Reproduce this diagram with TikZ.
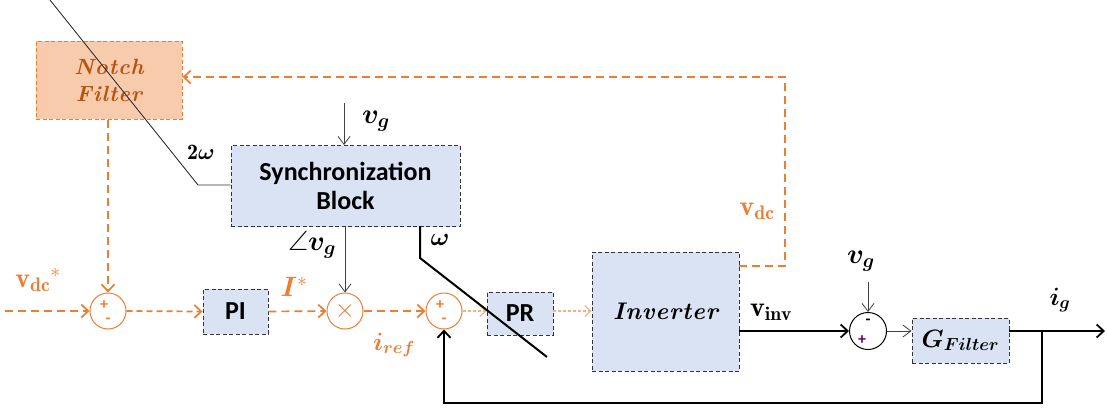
\RequirePackage{fix-cm}
\documentclass[tikz,border=0pt]{standalone}
\usepackage{amsmath,amssymb,bm}
\usepackage{fontspec}
\newfontfamily\carlito{Carlito}
\usetikzlibrary{arrows.meta}
\definecolor{orng}{HTML}{ED7D31}
\definecolor{orngl}{HTML}{F4B183}
\definecolor{notchfill}{HTML}{F8CBAD}
\definecolor{notchtxt}{HTML}{B8530F}
\definecolor{bluefill}{HTML}{DAE3F3}
\newcommand{\ks}{\kern0.9pt}
\begin{document}
\begin{tikzpicture}[x=1pt,y=-1pt,
  blk/.style={draw=black!80, dashed, dash pattern=on 4pt off 2.5pt, fill=bluefill, line width=0.9pt, inner sep=0pt},
  osig/.style={draw=orng, line width=1.7pt, dash pattern=on 8pt off 5pt, -{Straight Barb[length=7pt,width=13pt,line width=1.7pt]}},
  osigl/.style={draw=orngl, line width=1.1pt, dash pattern=on 3pt off 2pt, -{Straight Barb[length=6pt,width=11pt,line width=1.1pt]}},
  ksig/.style={draw=black, line width=1.8pt, -{Straight Barb[length=7pt,width=13pt,line width=1.8pt]}},
  tsig/.style={draw=black!75, line width=0.8pt, -{Straight Barb[length=8pt,width=12pt,line width=0.8pt]}},
  osum/.style={circle, draw=orng, line width=1pt, minimum size=36pt, inner sep=0pt},
  ksum/.style={circle, draw=black, line width=1pt, minimum size=37pt, inner sep=0pt},
  sgn/.style={inner sep=0pt, font=\carlito\bfseries\fontsize{16}{16}\selectfont},
  lbl/.style={inner sep=0pt, font=\fontsize{28}{30}\selectfont},
  lbls/.style={inner sep=0pt, font=\fontsize{25}{28}\selectfont}
]
\useasboundingbox (0,0) rectangle (1107,410);

% blocks
\node[draw=orng, dashed, dash pattern=on 4pt off 2.5pt, line width=1pt, fill=notchfill,
      minimum width=146pt, minimum height=78pt, inner sep=0pt, align=center,
      text=notchtxt, font=\bfseries\itshape\fontsize{22}{27}\selectfont] (notch) at (109,80)
      {N\ks o\ks t\ks c\ks h\\F\ks i\ks l\ks t\ks e\ks r};
\node[blk, minimum width=229pt, minimum height=81pt, align=center,
      font=\carlito\bfseries\fontsize{26}{29}\selectfont] (sync) at (345.5,186) {Synchronization\\Block};
\node[blk, minimum width=65pt, minimum height=45pt, font=\carlito\bfseries\fontsize{26}{26}\selectfont] (pi) at (235.5,311.5) {PI};
\node[blk, minimum width=66pt, minimum height=43pt, font=\carlito\bfseries\fontsize{26}{26}\selectfont] (pr) at (520,313.5) {PR};
\node[blk, minimum width=147pt, minimum height=119pt, text depth=0pt, font=\bfseries\itshape\fontsize{24}{28}\selectfont] (inv) at (665.5,311.5) {I\ks n\ks v\ks e\ks r\ks t\ks e\ks r};
\node[blk, minimum width=97pt, minimum height=45pt, font=\fontsize{25}{28}\selectfont] (gf) at (960.5,340.5) {$\bm{G}_{\bm{Filter}}$};

% summing junctions
\node[osum] (sum1) at (108,311) {};
\node[sgn, text=orng] (s1p) at (104,305) {+};
\node[sgn, text=orng] (s1m) at (108,321) {-};
\node[osum] (mul) at (345,311) {};
\node[inner sep=0pt, text=orng, font=\fontsize{26}{26}\selectfont] (mulx) at (345,311) {$\times$};
\node[osum] (sum2) at (444,311) {};
\node[sgn, text=orng] (s2p) at (440,305) {+};
\node[sgn, text=orng] (s2m) at (444,321) {-};
\node[ksum] (sum3) at (868,331) {};
\node[sgn] (s3m) at (868,322) {-};
\node[sgn, text=violet!80!black] (s3p) at (862,340) {+};

% coordinates
\coordinate (vdcin) at (5,311);
\coordinate (fbtr) at (785,77);
\coordinate (fbbr) at (785,266);
\coordinate (vgtop) at (344,103);
\coordinate (wtop) at (420,226);
\coordinate (wbend) at (420,258);
\coordinate (wend) at (547,357);
\coordinate (twtop) at (50,0);
\coordinate (twbend) at (198,185);
\coordinate (vg3) at (868,282);
\coordinate (outend) at (1105,331);
\coordinate (tap) at (1042,331);
\coordinate (fbbot) at (1042,403);
\coordinate (fbbl) at (444,403);

% orange signal paths
\draw[osig] (vdcin) -- (sum1.west);
\draw[osig] (sum1.north |- notch.south) -- (sum1.north);
\draw[osig, dash pattern=on 6pt off 4pt] (sum1.east) -- (pi.west);
\draw[osig] (pi.east) -- (mul.west);
\draw[osig] (mul.east) -- (sum2.west);
\draw[osigl] (sum2.east) -- (pr.west |- sum2);
\draw[osigl] (pr.east |- sum2) -- (inv.west |- sum2);
\draw[osig] (inv.east |- fbbr) -- (fbbr) -- (fbtr) -- (notch.east |- fbtr);

% black paths
\draw[tsig] (vgtop) -- (vgtop |- sync.north);
\draw[tsig] (mul.north |- sync.south) -- (mul.north);
\draw[black!80, line width=0.9pt] (twtop) -- (twbend) -- (sync.west |- twbend);
\draw[black, line width=2pt] (wtop) -- (wbend) -- (wend);
\draw[ksig] (inv.east |- sum3) -- (sum3.west);
\draw[tsig] (vg3) -- (sum3.north);
\draw[tsig] (sum3.east) -- (gf.west |- sum3);
\draw[ksig] (gf.east |- sum3) -- (outend);
\draw[ksig] (tap) -- (fbbot) -- (fbbl) -- (sum2.south);

% labels
\node[lbl, text=orng] (lvdcs) at (38,280) {$\mathbf{v}_{\mathbf{dc}}{}^{*}$};
\node[lbl, text=orng] (lis) at (294,287) {$\bm{I}^{*}$};
\node[lbls, text=orng] (liref) at (394,345) {$\bm{i}_{\bm{ref}}$};
\node[lbl, text=orng] (lvdc) at (757,211) {$\mathbf{v}_{\mathbf{dc}}$};
\node[lbl] (lang) at (312,245) {$\angle\bm{v}_{\bm{g}}$};
\node[lbls] (lw) at (440,240) {$\bm{\omega}$};
\node[lbls, font=\fontsize{22}{24}\selectfont] (l2w) at (201,152) {$\mathbf{2}\bm{\omega}$};
\node[lbl] (lvg1) at (376,121) {$\bm{v}_{\bm{g}}$};
\node[lbl] (lvinv) at (771,312) {$\mathbf{v}_{\mathbf{inv}}$};
\node[lbl] (lvg2) at (861,261) {$\bm{v}_{\bm{g}}$};
\node[lbls] (lig) at (1060,300) {$\bm{i}_{\bm{g}}$};
\end{tikzpicture}
\end{document}
